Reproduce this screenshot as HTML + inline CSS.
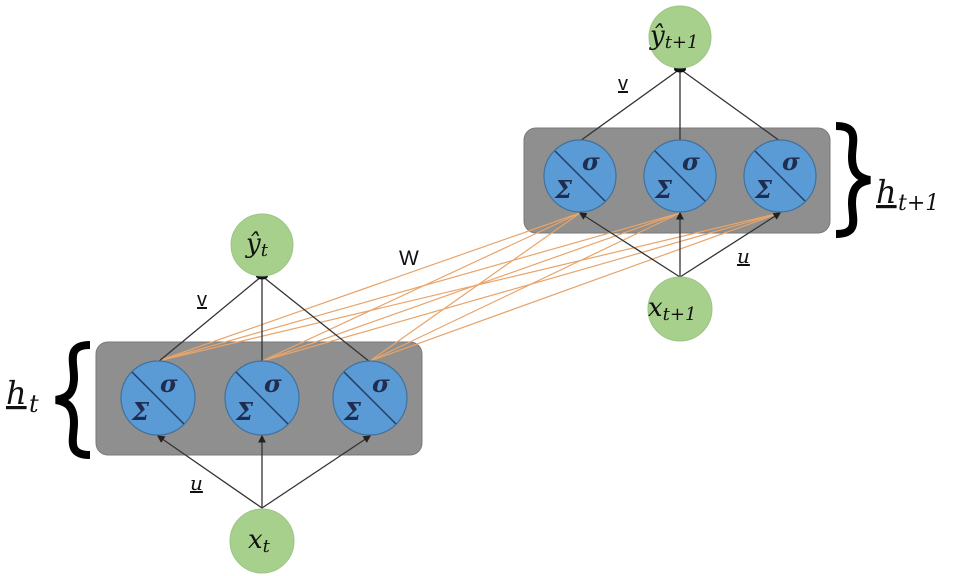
<!DOCTYPE html>
<html><head><style>body{margin:0;background:#fff}svg{display:block}</style></head><body>
<svg width="955" height="576" viewBox="0 0 955 576" xmlns="http://www.w3.org/2000/svg" font-family="DejaVu Serif, serif">
<defs>
<marker id="a" markerWidth="6" markerHeight="6" refX="5" refY="3" orient="auto"><path d="M0,0L6,3L0,6z" fill="#222"/></marker>
</defs>
<rect x="96" y="342" width="326" height="113" rx="12" fill="#8f8f8f" stroke="#7a7a7a"/>
<rect x="524" y="128" width="306" height="105" rx="12" fill="#8f8f8f" stroke="#7a7a7a"/>
<g stroke="#e8a46a" stroke-width="1.2">
<line x1="158" y1="361" x2="580" y2="213"/><line x1="158" y1="361" x2="680" y2="213"/><line x1="158" y1="361" x2="780" y2="213"/>
<line x1="262" y1="361" x2="580" y2="213"/><line x1="262" y1="361" x2="680" y2="213"/><line x1="262" y1="361" x2="780" y2="213"/>
<line x1="370" y1="361" x2="580" y2="213"/><line x1="370" y1="361" x2="680" y2="213"/><line x1="370" y1="361" x2="780" y2="213"/>
</g>
<g stroke="#333" stroke-width="1.3">
<line x1="262" y1="276" x2="158" y2="362"/><line x1="262" y1="276" x2="262" y2="362"/><line x1="262" y1="276" x2="370" y2="362"/>
<line x1="262" y1="508" x2="158" y2="436" marker-end="url(#a)"/><line x1="262" y1="508" x2="262" y2="436" marker-end="url(#a)"/><line x1="262" y1="508" x2="370" y2="436" marker-end="url(#a)"/>
<line x1="680" y1="69" x2="580" y2="141"/><line x1="680" y1="69" x2="680" y2="141"/><line x1="680" y1="69" x2="780" y2="141"/>
<line x1="680" y1="277" x2="580" y2="213" marker-end="url(#a)"/><line x1="680" y1="277" x2="680" y2="213" marker-end="url(#a)"/><line x1="680" y1="277" x2="780" y2="213" marker-end="url(#a)"/>
</g>
<ellipse cx="262" cy="276" rx="6" ry="3.5" fill="#111"/>
<ellipse cx="680" cy="69" rx="6" ry="3.5" fill="#111"/>
<g fill="#a8d08d" stroke="#9cc483">
<circle cx="262" cy="245" r="31"/><circle cx="262" cy="541" r="32"/>
<circle cx="680" cy="37" r="31"/><circle cx="680" cy="309" r="32"/>
</g>
<g fill="#5b9bd5" stroke="#41719c" stroke-width="1.2">
<circle cx="158" cy="398" r="37"/><circle cx="262" cy="398" r="37"/><circle cx="370" cy="398" r="37"/>
<circle cx="580" cy="176" r="36"/><circle cx="680" cy="176" r="36"/><circle cx="780" cy="176" r="36"/>
</g>
<g stroke="#1f3d66" stroke-width="1.5">
<line x1="132" y1="372" x2="184" y2="424"/><line x1="236" y1="372" x2="288" y2="424"/><line x1="344" y1="372" x2="396" y2="424"/>
<line x1="555" y1="151" x2="605" y2="201"/><line x1="655" y1="151" x2="705" y2="201"/><line x1="755" y1="151" x2="805" y2="201"/>
</g>
<g font-style="italic" font-size="24" fill="#1f2d50" font-weight="bold">
<text x="160" y="392">σ</text><text x="132" y="420">Σ</text>
<text x="264" y="392">σ</text><text x="236" y="420">Σ</text>
<text x="372" y="392">σ</text><text x="344" y="420">Σ</text>
<text x="582" y="170">σ</text><text x="555" y="198">Σ</text>
<text x="682" y="170">σ</text><text x="655" y="198">Σ</text>
<text x="782" y="170">σ</text><text x="755" y="198">Σ</text>
</g>
<g font-style="italic" fill="#111">
<text x="246" y="252" font-size="26">ŷ<tspan font-size="18" dy="4">t</tspan></text>
<text x="248" y="548" font-size="26">x<tspan font-size="18" dy="4">t</tspan></text>
<text x="650" y="44" font-size="26">ŷ<tspan font-size="18" dy="4">t+1</tspan></text>
<text x="648" y="316" font-size="26">x<tspan font-size="18" dy="4">t+1</tspan></text>
<text x="6" y="404" font-size="32" text-decoration="underline">h</text><text x="29" y="412" font-size="24" font-style="italic">t</text>
<text x="876" y="203" font-size="32" text-decoration="underline">h</text><text x="898" y="210" font-size="22" font-style="italic">t+1</text>
<text x="190" y="490" font-size="20" text-decoration="underline">u</text>
<text x="737" y="263" font-size="20" text-decoration="underline">u</text>
</g>
<g font-family="Liberation Sans, sans-serif" fill="#111">
<text x="197" y="306" font-size="20" text-decoration="underline">v</text>
<text x="618" y="90" font-size="20" text-decoration="underline">v</text>
<text x="399" y="265" font-size="21">W</text>
</g>
<path d="M90,345 C66,345 74,362 74,377 C74,393 68,398 56,400 C68,402 74,407 74,423 C74,438 66,455 90,455" fill="none" stroke="#000" stroke-width="8"/>
<path d="M836,126 C860,126 852,142 852,157 C852,172 858,178 870,180 C858,182 852,188 852,203 C852,218 860,234 836,234" fill="none" stroke="#000" stroke-width="8"/>
</svg>
</body></html>
